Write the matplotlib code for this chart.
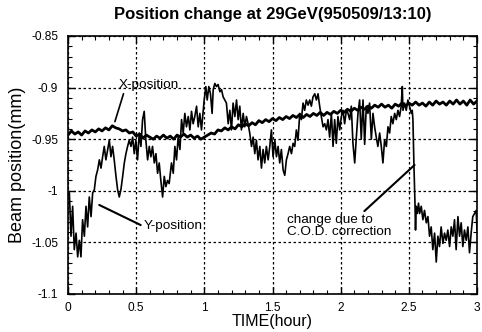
import numpy as np
import matplotlib
matplotlib.use("Agg")
import matplotlib.pyplot as plt
from matplotlib.ticker import MultipleLocator

plt.rcParams['font.family'] = ['Liberation Sans', 'DejaVu Sans']

title = "Position change at 29GeV(950509/13:10)"

# X-position series (time in hours, position in mm)
x_time = np.linspace(0, 3, 121)
x_pos = [
    -0.946, -0.942, -0.945, -0.943, -0.946, -0.942, -0.944, -0.941, -0.943, -0.940,
    -0.942, -0.939, -0.941, -0.937, -0.939, -0.940, -0.942, -0.941, -0.944, -0.943,
    -0.947, -0.945, -0.949, -0.946, -0.948, -0.950, -0.947, -0.949, -0.946, -0.949,
    -0.947, -0.950, -0.946, -0.948, -0.945, -0.948, -0.946, -0.949, -0.947, -0.950,
    -0.948, -0.946, -0.944, -0.945, -0.941, -0.942, -0.939, -0.941, -0.938, -0.940,
    -0.936, -0.938, -0.935, -0.937, -0.934, -0.936, -0.932, -0.934, -0.931, -0.933,
    -0.930, -0.932, -0.929, -0.931, -0.928, -0.930, -0.927, -0.929, -0.926, -0.929,
    -0.926, -0.928, -0.925, -0.927, -0.924, -0.927, -0.924, -0.926, -0.923, -0.925,
    -0.922, -0.924, -0.921, -0.923, -0.920, -0.922, -0.919, -0.921, -0.918, -0.920,
    -0.917, -0.919, -0.916, -0.919, -0.917, -0.920, -0.916, -0.918, -0.915, -0.918,
    -0.915, -0.917, -0.914, -0.917, -0.915, -0.918, -0.914, -0.917, -0.913, -0.916,
    -0.914, -0.917, -0.913, -0.916, -0.912, -0.916, -0.913, -0.917, -0.912, -0.916,
    -0.913,
]

# Y-position series
y_time = [
    0.000, 0.010, 0.022, 0.034, 0.046, 0.059, 0.071, 0.083, 0.095, 0.107,
    0.120, 0.132, 0.144, 0.156, 0.169, 0.181, 0.193, 0.205, 0.217, 0.230,
    0.242, 0.254, 0.266, 0.278, 0.291, 0.303, 0.315, 0.327, 0.339, 0.352,
    0.364, 0.376, 0.388, 0.401, 0.413, 0.425, 0.437, 0.449, 0.462, 0.474,
    0.486, 0.498, 0.510, 0.523, 0.535, 0.547, 0.559, 0.571, 0.584, 0.596,
    0.608, 0.620, 0.633, 0.645, 0.657, 0.669, 0.681, 0.694, 0.706, 0.718,
    0.730, 0.742, 0.759, 0.772, 0.784, 0.796, 0.808, 0.821, 0.833, 0.845,
    0.857, 0.869, 0.882, 0.894, 0.906, 0.918, 0.930, 0.943, 0.955, 0.967,
    0.979, 0.992, 0.999, 1.011, 1.021, 1.033, 1.045, 1.057, 1.065, 1.077,
    1.089, 1.101, 1.114, 1.126, 1.138, 1.150, 1.162, 1.175, 1.187, 1.199,
    1.211, 1.224, 1.236, 1.248, 1.260, 1.272, 1.285, 1.297, 1.309, 1.321,
    1.333, 1.346, 1.358, 1.370, 1.382, 1.394, 1.407, 1.419, 1.431, 1.443,
    1.455, 1.468, 1.480, 1.492, 1.504, 1.517, 1.529, 1.541, 1.553, 1.565,
    1.578, 1.590, 1.602, 1.614, 1.626, 1.639, 1.651, 1.663, 1.675, 1.687,
    1.700, 1.712, 1.724, 1.736, 1.748, 1.761, 1.773, 1.785, 1.797, 1.810,
    1.822, 1.834, 1.846, 1.858, 1.871, 1.883, 1.895, 1.907, 1.919, 1.932,
    1.944, 1.956, 1.968, 1.980, 1.993, 2.005, 2.017, 2.029, 2.042, 2.054,
    2.066, 2.078, 2.090, 2.103, 2.115, 2.127, 2.139, 2.151, 2.164, 2.176,
    2.188, 2.200, 2.212, 2.225, 2.237, 2.249, 2.261, 2.273, 2.286, 2.298,
    2.310, 2.322, 2.335, 2.347, 2.359, 2.371, 2.383, 2.396, 2.408, 2.420,
    2.432, 2.444, 2.452, 2.457, 2.469, 2.481, 2.493, 2.505, 2.518, 2.525,
    2.530, 2.537, 2.545, 2.549, 2.554, 2.562, 2.571, 2.579, 2.591, 2.603,
    2.615, 2.628, 2.640, 2.652, 2.664, 2.676, 2.689, 2.701, 2.713, 2.725,
    2.737, 2.750, 2.762, 2.774, 2.786, 2.799, 2.811, 2.823, 2.835, 2.847,
    2.860, 2.872, 2.884, 2.896, 2.908, 2.921, 2.933, 2.945, 2.957, 2.969,
    2.982, 2.994, 3.000,
]
y_pos = [
    -1.004, -1.002, -1.044, -1.015, -1.057, -1.041, -1.064, -1.048, -1.064, -1.028,
    -1.044, -1.015, -1.035, -1.006, -1.025, -1.002, -0.999, -0.986, -0.980, -0.970,
    -0.978, -0.967, -0.957, -0.970, -0.960, -0.951, -0.967, -0.957, -0.970, -0.986,
    -0.999, -1.006, -0.999, -0.986, -0.973, -0.964, -0.957, -0.951, -0.957, -0.948,
    -0.964, -0.951, -0.970, -0.944, -0.957, -0.931, -0.923, -0.951, -0.970, -0.957,
    -0.967, -0.957, -0.973, -0.964, -0.983, -0.973, -0.990, -1.006, -0.986, -0.996,
    -0.990, -0.993, -0.973, -0.983, -0.957, -0.970, -0.948, -0.960, -0.931, -0.944,
    -0.925, -0.938, -0.928, -0.941, -0.923, -0.935, -0.928, -0.918, -0.938, -0.925,
    -0.941, -0.922, -0.912, -0.899, -0.912, -0.899, -0.906, -0.925, -0.902, -0.896,
    -0.899, -0.897, -0.904, -0.902, -0.909, -0.912, -0.915, -0.935, -0.922, -0.941,
    -0.915, -0.928, -0.912, -0.931, -0.918, -0.941, -0.925, -0.938, -0.928, -0.935,
    -0.944, -0.957, -0.948, -0.964, -0.951, -0.970, -0.957, -0.978, -0.960, -0.973,
    -0.957, -0.970, -0.957, -0.941, -0.967, -0.951, -0.967, -0.957, -0.973, -0.960,
    -0.980, -0.985, -0.970, -0.964, -0.957, -0.964, -0.954, -0.957, -0.941, -0.951,
    -0.925, -0.931, -0.915, -0.922, -0.912, -0.917, -0.912, -0.918, -0.909, -0.906,
    -0.912, -0.906, -0.918, -0.928, -0.938, -0.935, -0.941, -0.931, -0.948, -0.925,
    -0.957, -0.931, -0.954, -0.928, -0.941, -0.928, -0.922, -0.935, -0.922, -0.925,
    -0.931, -0.918, -0.954, -0.973, -0.948, -0.925, -0.912, -0.950, -0.912, -0.955,
    -0.918, -0.925, -0.915, -0.950, -0.925, -0.938, -0.948, -0.957, -0.944, -0.957,
    -0.973, -0.951, -0.957, -0.938, -0.944, -0.928, -0.935, -0.925, -0.931, -0.922,
    -0.928, -0.918, -0.899, -0.922, -0.915, -0.922, -0.912, -0.918, -0.925, -0.922,
    -0.931, -0.973, -1.012, -1.038, -1.015, -1.022, -1.012, -1.022, -1.015, -1.028,
    -1.019, -1.031, -1.025, -1.044, -1.035, -1.057, -1.041, -1.069, -1.044, -1.054,
    -1.035, -1.051, -1.041, -1.048, -1.038, -1.054, -1.035, -1.044, -1.028, -1.057,
    -1.025, -1.044, -1.031, -1.054, -1.038, -1.048, -1.035, -1.060, -1.041, -1.025,
    -1.022, -1.019, -1.038,
]

fig = plt.figure(figsize=(4.82, 3.32), dpi=100)
ax = fig.add_axes([68/482, 1-294/332, (477-68)/482, (294-36)/332])

ax.plot(x_time, x_pos, color='black', lw=2.0, solid_joinstyle='round')
ax.plot(y_time, y_pos, color='black', lw=1.2, solid_joinstyle='round')

ax.set_xlim(0, 3)
ax.set_ylim(-1.1, -0.85)
ax.xaxis.set_major_locator(MultipleLocator(0.5))
ax.xaxis.set_minor_locator(MultipleLocator(0.1))
ax.yaxis.set_major_locator(MultipleLocator(0.05))
ax.yaxis.set_minor_locator(MultipleLocator(0.01))
ax.set_xticks([0, 0.5, 1, 1.5, 2, 2.5, 3])
ax.set_xticklabels(['0', '0.5', '1', '1.5', '2', '2.5', '3'])
ax.set_yticks([-1.1, -1.05, -1.0, -0.95, -0.9, -0.85])
ax.set_yticklabels(['-1.1', '-1.05', '-1', '-0.95', '-0.9', '-0.85'])
ax.tick_params(which='both', direction='in', top=True, right=True, labelsize=8.6, colors='black')
ax.tick_params(which='major', length=5, width=1)
ax.tick_params(which='minor', length=3, width=0.8)
ax.tick_params(axis='y', pad=7)
ax.tick_params(axis='x', pad=6)
ax.grid(True, which='major', color='black', linestyle=(0, (2, 2)), lw=0.9)
for s in ax.spines.values():
    s.set_linewidth(1.2)

ax.set_title(title, fontsize=12, fontweight='bold', pad=12)
ax.set_xlabel('TIME(hour)', fontsize=11.5, labelpad=0)
ax.set_ylabel('Beam position(mm)', fontsize=13, labelpad=4)

ax.annotate('X-position', xy=(0.344, -0.933), xytext=(0.59, -0.8975),
            ha='center', va='center', fontsize=9.7,
            arrowprops=dict(arrowstyle='-', color='black', lw=1.2,
                            shrinkA=0, shrinkB=0, relpos=(0.1, 0.0)))
ax.annotate('Y-position', xy=(0.229, -1.0137), xytext=(0.77, -1.0345),
            ha='center', va='center', fontsize=9.7,
            arrowprops=dict(arrowstyle='-', color='black', lw=1.5,
                            shrinkA=0, shrinkB=0, relpos=(0.0, 0.5)))
ax.annotate('change due to\nC.O.D. correction', xy=(2.542, -0.975), xytext=(1.61, -1.034),
            ha='left', va='center', fontsize=9.7, linespacing=1.0,
            arrowprops=dict(arrowstyle='-', color='black', lw=1.5,
                            shrinkA=0, shrinkB=0, relpos=(0.72, 1.05)))

fig.savefig('out.png', dpi=100)
